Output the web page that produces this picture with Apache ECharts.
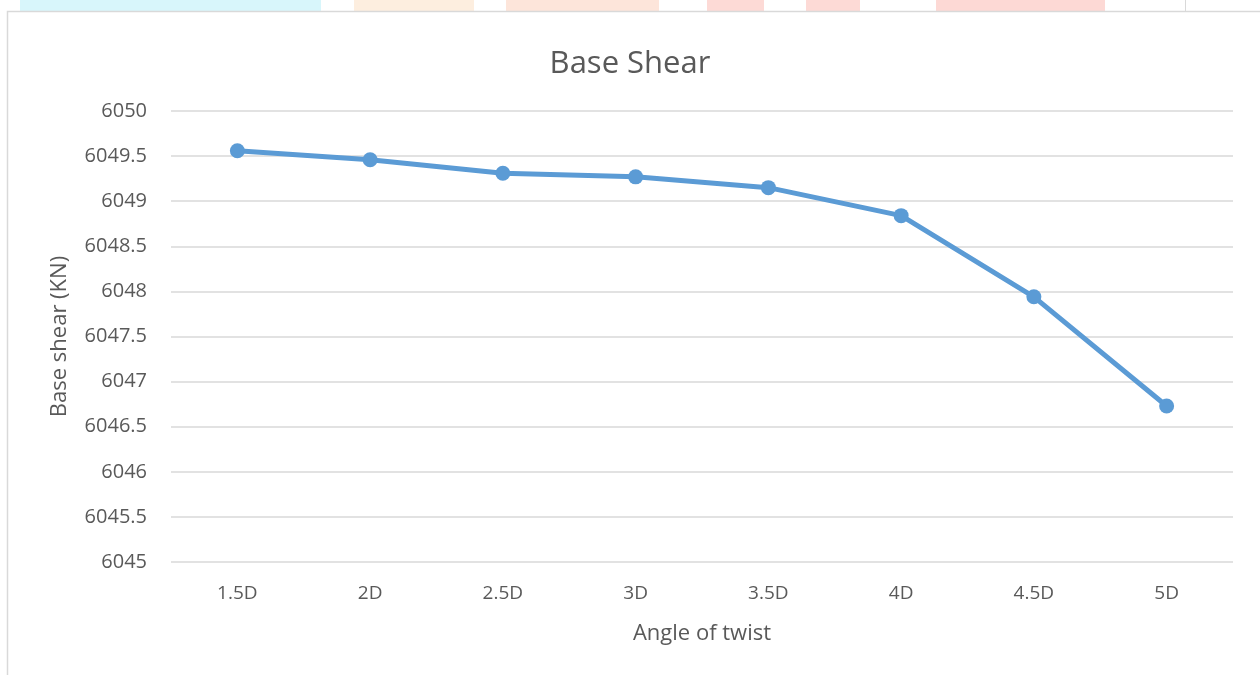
<!DOCTYPE html>
<html>
<head>
<meta charset="utf-8">
<script src="https://cdn.jsdelivr.net/npm/echarts@6/dist/echarts.min.js"></script>
<style>
html,body{margin:0;padding:0;background:#fff;}
#chart{width:1260px;height:675px;}
</style>
</head>
<body>
<div id="chart"></div>
<script>
const categories = ['1.5D','2D','2.5D','3D','3.5D','4D','4.5D','5D'];
const baseShear = [6049.56, 6049.46, 6049.31, 6049.27, 6049.15, 6048.84, 6047.94, 6046.73];
const yMin = 6045, yMax = 6050, yStep = 0.5;

const font = '"Open Sans", "Liberation Sans", sans-serif';
const chart = echarts.init(document.getElementById('chart'), null, {renderer: 'canvas'});
chart.setOption({
  backgroundColor: '#ffffff',
  animation: false,
  title: {
    text: 'Base Shear',
    left: 'center',
    top: 44,
    textStyle: {fontFamily: font, fontSize: 31, fontWeight: 'normal', color: '#595959'}
  },
  graphic: [
    {type: 'rect', shape: {x: 20, y: 0, width: 301, height: 11}, style: {fill: '#d8f6fb'}},
    {type: 'rect', shape: {x: 354, y: 0, width: 120, height: 11}, style: {fill: '#fdeedf'}},
    {type: 'rect', shape: {x: 506, y: 0, width: 153, height: 11}, style: {fill: '#fde5da'}},
    {type: 'rect', shape: {x: 707, y: 0, width: 57, height: 11}, style: {fill: '#fddad6'}},
    {type: 'rect', shape: {x: 806, y: 0, width: 54, height: 11}, style: {fill: '#fddad6'}},
    {type: 'rect', shape: {x: 936, y: 0, width: 169, height: 11}, style: {fill: '#fdd9d5'}},
    {type: 'line', shape: {x1: 1185.5, y1: 0, x2: 1185.5, y2: 11}, style: {stroke: '#d9d9d9', lineWidth: 1}},
    {type: 'rect', shape: {x: 7.5, y: 11.5, width: 1300, height: 700}, style: {fill: 'none', stroke: '#d9d9d9', lineWidth: 1.5}}
  ],
  grid: {left: 171, right: 27, top: 111, bottom: 113, containLabel: false},
  xAxis: {
    type: 'category',
    data: categories,
    boundaryGap: true,
    name: 'Angle of twist',
    nameLocation: 'middle',
    nameGap: 61,
    nameTextStyle: {fontFamily: font, fontSize: 22, color: '#595959'},
    axisLine: {show: false},
    axisTick: {show: false},
    axisLabel: {fontFamily: font, fontSize: 19, color: '#595959', margin: 22}
  },
  yAxis: {
    type: 'value',
    min: yMin,
    max: yMax,
    interval: yStep,
    name: 'Base shear (KN)',
    nameLocation: 'middle',
    nameGap: 100,
    nameRotate: 90,
    nameTextStyle: {fontFamily: font, fontSize: 22, color: '#595959'},
    axisLine: {show: false},
    axisTick: {show: false},
    splitLine: {lineStyle: {color: '#d9d9d9', width: 1.5}},
    axisLabel: {fontFamily: font, fontSize: 20, color: '#595959', margin: 24, formatter: v => String(v)}
  },
  series: [{
    type: 'line',
    data: baseShear,
    symbol: 'circle',
    symbolSize: 15,
    lineStyle: {color: '#5b9bd5', width: 5},
    itemStyle: {color: '#5b9bd5'}
  }]
});
</script>
</body>
</html>
